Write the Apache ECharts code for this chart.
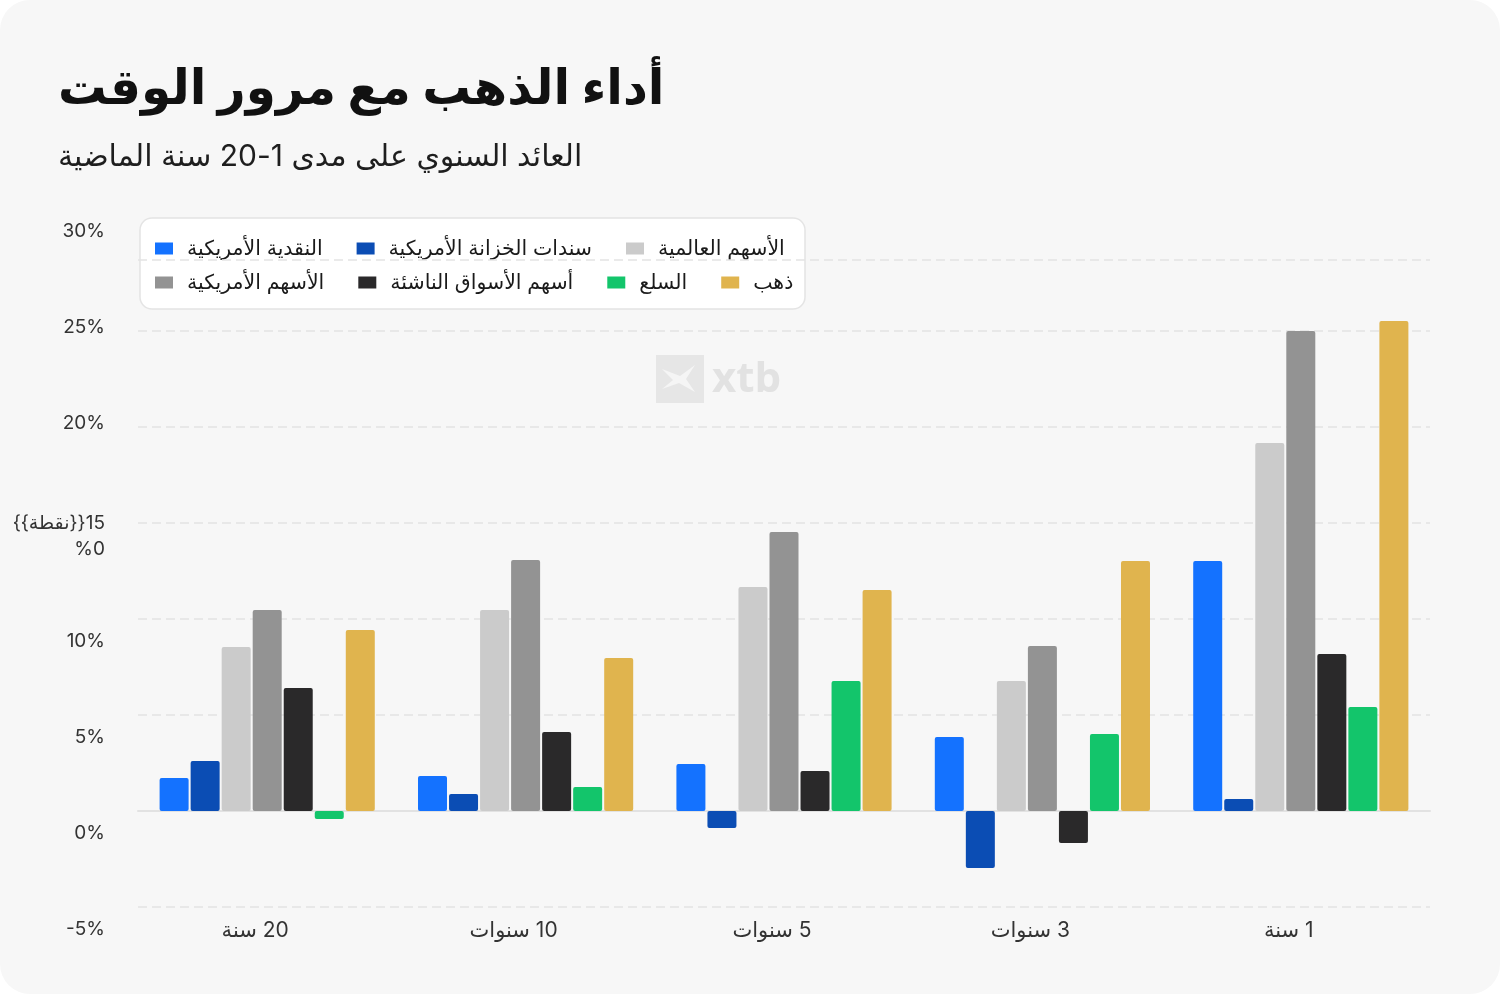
<!DOCTYPE html>
<html>
<head>
<meta charset="utf-8">
<script src="https://cdn.jsdelivr.net/npm/echarts@6/dist/echarts.min.js"></script>
<style>
html,body{margin:0;padding:0;background:#ffffff;}
#chart{width:1500px;height:994px;background:#f7f7f7;border-radius:30px;overflow:hidden;}
</style>
</head>
<body>
<div id="chart"></div>
<script>
var titleText = 'أداء الذهب مع مرور الوقت';
var subtitleText = 'العائد السنوي على مدى 1-20 سنة الماضية';
var categories = ['20 سنة', '10 سنوات', '5 سنوات', '3 سنوات', '1 سنة'];
var seriesNames = ['النقدية الأمريكية', 'سندات الخزانة الأمريكية', 'الأسهم العالمية', 'الأسهم الأمريكية', 'أسهم الأسواق الناشئة', 'السلع', 'ذهب'];
var usCash = [1.72, 1.82, 2.45, 3.85, 13.02];
var usTreasuries = [2.6, 0.89, -0.89, -2.97, 0.63];
var globalEquities = [8.54, 10.47, 11.67, 6.77, 19.17];
var usEquities = [10.47, 13.07, 14.53, 8.59, 25.0];
var emEquities = [6.4, 4.11, 2.08, -1.67, 8.18];
var commodities = [-0.42, 1.25, 6.77, 4.01, 5.42];
var gold = [9.43, 7.97, 11.51, 13.02, 25.52];
var colors = ['#1472ff', '#0b4db4', '#cbcbcb', '#939393', '#2a292a', '#13c56b', '#e0b44e'];
var yTickLabels = {'30': '30%', '25': '25%', '20': '20%', '15': '\n{{نقطة}}\u200E15\n%0', '10': '10%', '5': '5%', '0': '0%', '-5': '-5%'};
var topRefLine = 28.7;

var allData = [usCash, usTreasuries, globalEquities, usEquities, emEquities, commodities, gold];
var FONT = "Inter, 'DejaVu Sans', sans-serif";

var chart = echarts.init(document.getElementById('chart'), null, {renderer: 'canvas'});

var series = seriesNames.map(function (n, i) {
  var s = {
    name: n,
    type: 'bar',
    data: allData[i],
    barWidth: 29,
    barGap: '7%',
    itemStyle: {color: colors[i], borderRadius: 2},
    emphasis: {disabled: true}
  };
  if (i === 0) {
    s.markLine = {
      silent: true,
      symbol: 'none',
      label: {show: false},
      lineStyle: {color: '#e3e3e3', type: [9, 5], width: 1.5},
      data: [{yAxis: topRefLine}]
    };
  }
  return s;
});

var legendText = {fontSize: 20.5, color: '#1a1a1a', padding: [0, 0, 0, 9], fontFamily: FONT};

var option = {
  backgroundColor: 'transparent',
  animation: false,
  textStyle: {fontFamily: FONT},
  title: [
    {text: titleText, left: 58, top: 65, padding: 0, textStyle: {fontSize: 48.5, fontWeight: 'bold', color: '#111111', fontFamily: FONT}},
    {text: '\u202B' + subtitleText + '\u202C', left: 58, top: 142, padding: 0, textStyle: {fontSize: 30, fontWeight: 'normal', color: '#1e1e1e', fontFamily: FONT}}
  ],
  graphic: [
    {type: 'rect', z: 1, shape: {x: 140, y: 218, width: 665, height: 91, r: 12},
     style: {fill: '#ffffff', stroke: '#e4e4e4', lineWidth: 1.5}},
    {type: 'group', z: 1, children: [
      {type: 'rect', shape: {x: 656, y: 355, width: 48, height: 48}, style: {fill: '#e6e6e6'}},
      {type: 'polygon', shape: {points: [[662, 369], [680, 376], [695, 365], [686, 379], [695, 392], [679, 383], [662, 389], [673, 380]]}, style: {fill: '#f5f5f5'}},
      {type: 'text', style: {x: 712, y: 380, text: 'xtb', fontSize: 42, fontWeight: 'bold', fontFamily: "'Open Sans', Roboto, sans-serif", fill: '#e2e2e2', verticalAlign: 'middle', textAlign: 'left'}}
    ]}
  ],
  legend: [
    {data: seriesNames.slice(0, 3), left: 155, top: 238, padding: 0, itemGap: 34, itemWidth: 18, itemHeight: 12, icon: 'rect', z: 5, selectedMode: false,
     textStyle: legendText},
    {data: seriesNames.slice(3), left: 155, top: 272, padding: 0, itemGap: 34, itemWidth: 18, itemHeight: 12, icon: 'rect', z: 5, selectedMode: false,
     textStyle: legendText}
  ],
  grid: {left: 138, right: 70, top: 235, bottom: 87, containLabel: false},
  xAxis: {
    type: 'category',
    data: categories,
    axisLine: {show: true, onZero: true, lineStyle: {color: '#e2e2e2', width: 2}},
    axisTick: {show: false},
    axisLabel: {
      margin: 13,
      fontSize: 21,
      color: '#333333',
      fontFamily: FONT,
      padding: [0, 24, 0, 0],
      formatter: function (v) { return '\u202B' + v + '\u202C'; }
    },
    splitLine: {show: false}
  },
  yAxis: {
    type: 'value',
    min: -5,
    max: 30,
    interval: 5,
    axisLine: {show: false},
    axisTick: {show: false},
    splitLine: {show: true, lineStyle: {color: ['#e3e3e3', 'transparent', '#e3e3e3', '#e3e3e3', '#e3e3e3', '#e3e3e3', '#e3e3e3', 'transparent'], type: [9, 5], width: 1.5}},
    axisLabel: {
      margin: 33,
      fontSize: 19,
      color: '#333333',
      fontFamily: FONT,
      lineHeight: 26,
      formatter: function (v) {
        var t = yTickLabels[String(v)];
        if (v === 15) return t;
        if (v <= 10) return '{d|' + t + '}';
        return '{u|' + t + '}';
      },
      rich: {
        d: {fontSize: 19, color: '#333333', fontFamily: FONT, padding: [44, 0, 0, 0]},
        u: {fontSize: 19, color: '#333333', fontFamily: FONT, padding: [0, 0, 8, 0]}
      }
    }
  },
  series: series
};
chart.setOption(option);
</script>
</body>
</html>
